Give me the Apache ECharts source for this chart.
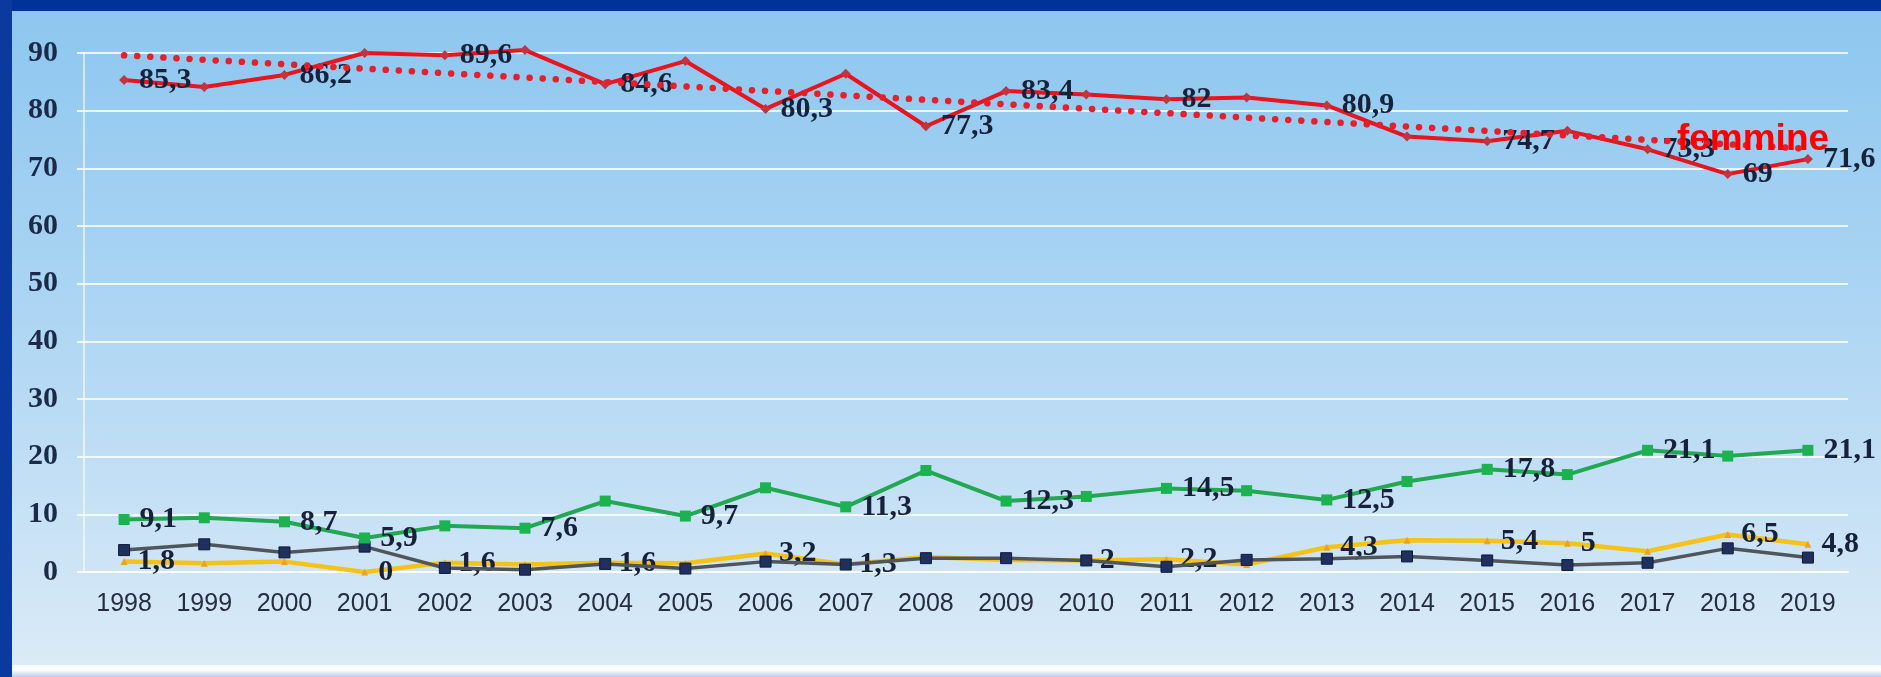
<!DOCTYPE html>
<html>
<head>
<meta charset="utf-8">
<script src="https://cdn.jsdelivr.net/npm/echarts@6/dist/echarts.min.js"></script>
<style>html,body{margin:0;padding:0;background:#003399;}#c{width:1881px;height:677px;}</style>
</head>
<body>
<div id="c"></div>
<script>
const years = ['1998','1999','2000','2001','2002','2003','2004','2005','2006','2007','2008','2009','2010','2011','2012','2013','2014','2015','2016','2017','2018','2019'];
const yTicks = [0, 10, 20, 30, 40, 50, 60, 70, 80, 90];

const femmine = [85.3, 84.1, 86.2, 90.0, 89.6, 90.5, 84.6, 88.6, 80.3, 86.4, 77.3, 83.4, 82.8, 82.0, 82.3, 80.9, 75.5, 74.7, 76.5, 73.3, 69.0, 71.6];
const verde   = [9.1, 9.4, 8.7, 5.9, 8.0, 7.6, 12.3, 9.7, 14.6, 11.3, 17.6, 12.3, 13.1, 14.5, 14.1, 12.5, 15.7, 17.8, 16.9, 21.1, 20.1, 21.1];
const scuro   = [3.8, 4.8, 3.4, 4.4, 0.7, 0.4, 1.4, 0.6, 1.8, 1.3, 2.4, 2.4, 2.0, 0.9, 2.1, 2.3, 2.7, 2.0, 1.2, 1.6, 4.1, 2.5];
const giallo  = [1.8, 1.5, 1.8, 0.0, 1.6, 1.3, 1.6, 1.5, 3.2, 1.3, 2.6, 2.1, 2.0, 2.2, 1.3, 4.3, 5.5, 5.4, 5.0, 3.6, 6.5, 4.8];

// trend line of femmine (read at both ends)
const trendStart = 89.6;   // 1998
const trendEnd = 73.4;     // 2019

const femmineLabeled = ['1998','2000','2002','2004','2006','2008','2009','2011','2013','2015','2017','2018','2019'];
const verdeLabeled   = ['1998','2000','2001','2003','2005','2007','2009','2011','2013','2015','2017','2019'];
const gialloLabeled  = ['1998','2001','2002','2004','2006','2007','2010','2011','2013','2015','2016','2018','2019'];

const annotation = 'femmine';

function withLabels(values, labeled) {
  return values.map((v, i) => labeled.indexOf(years[i]) >= 0 ? { value: v, label: { show: true } } : v);
}
const trendData = years.map((y, i) => i === 0 ? trendStart : (i === years.length - 1 ? trendEnd : null));

const labelStyle = {
  show: false,
  position: 'right',
  distance: 10,
  fontFamily: '"Liberation Serif", "Times New Roman", serif',
  fontWeight: 'bold',
  fontSize: 30,
  color: '#18213a',
  formatter: p => String(p.value).replace('.', ',')
};

const chart = echarts.init(document.getElementById('c'), null, { renderer: 'canvas' });
chart.setOption({
  animation: false,
  backgroundColor: new echarts.graphic.LinearGradient(0, 0, 0, 1, [
    { offset: 0, color: '#8cc6ef' },
    { offset: 0.45, color: '#acd5f3' },
    { offset: 1, color: '#dcebf7' }
  ]),
  graphic: [
    { type: 'rect', z: 100, shape: { x: 0, y: 0, width: 1881, height: 11 }, style: { fill: '#003399' } },
    { type: 'rect', z: 100, shape: { x: 0, y: 0, width: 12, height: 677 }, style: { fill: '#0a3a9e' } },
    { type: 'rect', z: 100, shape: { x: 12, y: 665, width: 1869, height: 12 },
      style: { fill: new echarts.graphic.LinearGradient(0, 0, 0, 1, [
        { offset: 0, color: '#f4f9fd' }, { offset: 0.4, color: '#ffffff' }, { offset: 1, color: '#b9cdee' }]) } },
    { type: 'text', z: 100, style: { text: annotation, x: 1753, y: 140, textAlign: 'center', textVerticalAlign: 'middle',
      font: 'bold 37px "Liberation Sans", Arial, sans-serif', fill: '#ff0000' } }
  ],
  grid: { left: 84, top: 53, width: 1764, height: 519, containLabel: false },
  xAxis: {
    type: 'category',
    data: years,
    boundaryGap: true,
    axisLine: { show: true, lineStyle: { color: 'rgba(255,255,255,0.85)', width: 2 } },
    axisTick: { show: false },
    axisLabel: { margin: 20, fontFamily: '"Liberation Sans", Arial, sans-serif', fontSize: 25, color: '#262d42' },
    splitLine: { show: false }
  },
  yAxis: {
    type: 'value',
    min: yTicks[0],
    max: yTicks[yTicks.length - 1],
    interval: 10,
    axisLine: { show: true, lineStyle: { color: 'rgba(255,255,255,0.8)', width: 1.5 } },
    axisTick: { show: true, length: 7, lineStyle: { color: 'rgba(255,255,255,0.8)', width: 2 } },
    axisLabel: { margin: 26, fontFamily: '"Liberation Serif", "Times New Roman", serif', fontWeight: 'bold', fontSize: 30, color: '#1c2a48' },
    splitLine: { show: true, lineStyle: { color: 'rgba(255,255,255,0.8)', width: 2 } }
  },
  series: [
    {
      name: 'giallo', type: 'line', data: withLabels(giallo, gialloLabeled), clip: false, z: 3,
      symbol: 'triangle', symbolSize: 7, showAllSymbol: true,
      lineStyle: { color: '#f5c218', width: 4.5 },
      itemStyle: { color: '#e8a32a' },
      label: labelStyle
    },
    {
      name: 'scuro', type: 'line', data: scuro, clip: false, z: 4,
      symbol: 'rect', symbolSize: 11, showAllSymbol: true,
      lineStyle: { color: '#50555c', width: 3.5 },
      itemStyle: { color: '#1f2f5e', borderColor: '#111a38', borderWidth: 1 }
    },
    {
      name: 'verde', type: 'line', data: withLabels(verde, verdeLabeled), clip: false, z: 5,
      symbol: 'rect', symbolSize: 11, showAllSymbol: true,
      lineStyle: { color: '#22a852', width: 4 },
      itemStyle: { color: '#1cb250' },
      label: labelStyle
    },
    {
      name: 'femmine', type: 'line', data: withLabels(femmine, femmineLabeled), clip: false, z: 6,
      symbol: 'diamond', symbolSize: 10, showAllSymbol: true,
      lineStyle: { color: '#e8141e', width: 4 },
      itemStyle: { color: '#c4343e' },
      label: labelStyle
    },
    {
      name: 'trend', type: 'line', data: trendData, connectNulls: true, clip: false, z: 7,
      symbol: 'none',
      lineStyle: { color: '#e5202c', width: 6.5, type: [0.1, 13], cap: 'round' }
    }
  ]
});
</script>
</body>
</html>
